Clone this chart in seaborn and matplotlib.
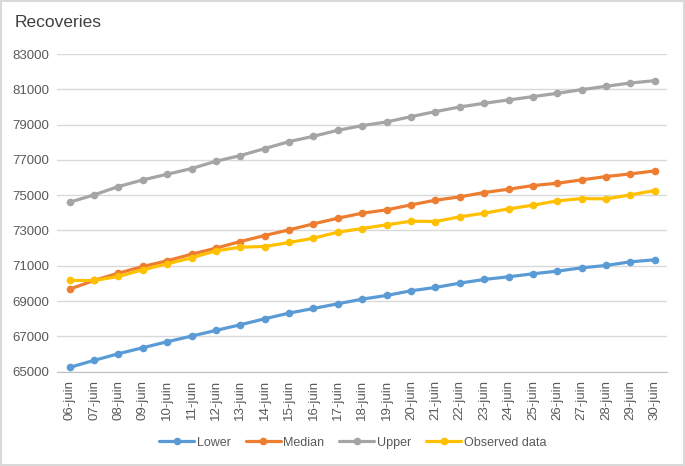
import matplotlib
matplotlib.use("Agg")
import matplotlib.pyplot as plt
import seaborn as sns
import pandas as pd
import numpy as np

# data
dates = ["06-juin", "07-juin", "08-juin", "09-juin", "10-juin", "11-juin", "12-juin",
         "13-juin", "14-juin", "15-juin", "16-juin", "17-juin", "18-juin", "19-juin",
         "20-juin", "21-juin", "22-juin", "23-juin", "24-juin", "25-juin", "26-juin",
         "27-juin", "28-juin", "29-juin", "30-juin"]

lower = [65243, 65640, 66017, 66357, 66696, 67017, 67338, 67659, 67998, 68319,
         68583, 68847, 69112, 69319, 69584, 69772, 70017, 70225, 70376, 70546,
         70697, 70885, 71018, 71225, 71338]
median = [69678, 70168, 70584, 70961, 71282, 71659, 71999, 72376, 72716, 73037,
          73376, 73697, 73980, 74169, 74452, 74716, 74905, 75150, 75339, 75546,
          75678, 75867, 76056, 76207, 76377]
upper = [74603, 75018, 75490, 75867, 76188, 76509, 76924, 77245, 77641, 78037,
         78339, 78679, 78943, 79151, 79452, 79735, 80000, 80207, 80396, 80585,
         80773, 80981, 81170, 81358, 81490]
observed = [70168, 70168, 70395, 70772, 71112, 71452, 71848, 72055, 72093, 72320,
            72565, 72905, 73112, 73320, 73527, 73508, 73773, 73980, 74225, 74433,
            74678, 74810, 74792, 75018, 75263]

series_names = ["Lower", "Median", "Upper", "Observed data"]
colors = ["#5B9BD5", "#ED7D31", "#A5A5A5", "#FFC000"]

rows = []
for name, vals in zip(series_names, [lower, median, upper, observed]):
    for i, v in enumerate(vals):
        rows.append({"idx": i, "value": v, "series": name})
df = pd.DataFrame(rows)

sns.set_style("white")
plt.rcParams["font.family"] = ["Liberation Sans", "DejaVu Sans"]

fig = plt.figure(figsize=(6.85, 4.66), dpi=100)
fig.patch.set_edgecolor("#D9D9D9")
fig.patch.set_linewidth(1.5)
ax = fig.add_axes([0.0839, 0.2024, 0.8898, 0.6817])

sns.lineplot(data=df, x="idx", y="value", hue="series", hue_order=series_names,
             palette=colors, marker="o", markersize=5.5, markeredgewidth=0,
             linewidth=2.3, ax=ax)

ax.set_xlim(-0.5, len(dates) - 0.5)
ax.set_ylim(65000, 83000)
ax.set_yticks(np.arange(65000, 83001, 2000))
ax.set_yticklabels([str(v) for v in range(65000, 83001, 2000)], fontsize=9.5, color="#595959")
ax.grid(axis="y", color="#D9D9D9", linewidth=1)
ax.set_axisbelow(True)

ax.set_xticks(range(len(dates)))
ax.set_xticklabels(dates, rotation=90, fontsize=9.5, color="#595959")
ax.set_xticks(np.arange(-0.5, len(dates), 1), minor=True)
ax.tick_params(axis="x", which="major", length=0, pad=6)
ax.tick_params(axis="x", which="minor", length=5, color="#BFBFBF", width=1)
ax.tick_params(axis="y", length=0, pad=6)

for s in ["top", "right", "left"]:
    ax.spines[s].set_visible(False)
ax.spines["bottom"].set_color("#BFBFBF")

ax.set_xlabel("")
ax.set_ylabel("")

fig.text(0.022, 0.952, "Recoveries", fontsize=12.5, color="#404040", va="center", ha="left")

handles, labels = ax.get_legend_handles_labels()
ax.legend(handles, labels, loc="center", bbox_to_anchor=(0.515, 0.05),
          bbox_transform=fig.transFigure, ncol=4, frameon=False, fontsize=9,
          handlelength=2.8, columnspacing=1.2, handletextpad=0.2, labelcolor="#595959")

fig.savefig("out.png", dpi=100)
